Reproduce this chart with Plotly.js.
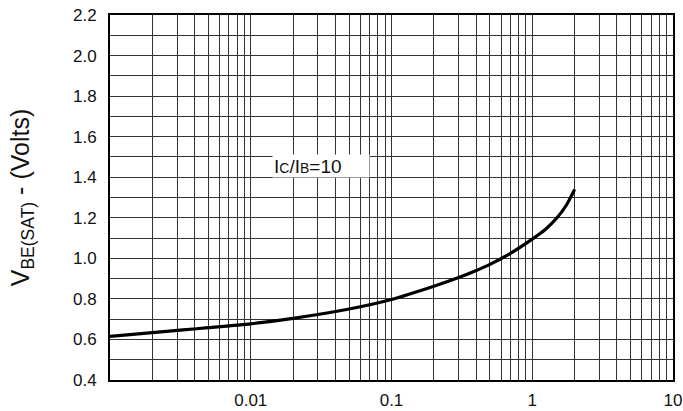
<!DOCTYPE html>
<html>
<head>
<meta charset="utf-8">
<script src="https://cdn.plot.ly/plotly-3.0.1.min.js"></script>
<style>html,body{margin:0;padding:0;background:#fff;}#chart{width:683px;height:411px;}</style>
</head>
<body>
<div id="chart"></div>
<script>
// Collector current IC (A)
const collectorCurrent = [0.001, 0.002, 0.0033, 0.005, 0.01, 0.02, 0.05, 0.1, 0.2, 0.3, 0.4, 0.5, 0.7, 1.0, 1.25, 1.5, 1.75, 2.0];
// VBE(SAT) (Volts)
const vbeSat = [0.615, 0.634, 0.647, 0.658, 0.677, 0.704, 0.750, 0.797, 0.862, 0.905, 0.940, 0.970, 1.025, 1.095, 1.145, 1.200, 1.263, 1.340];

const xTickLabels = ["0.01", "0.1", "1", "10"];
const xTickLabelValues = [0.01, 0.1, 1, 10];
const yTickLabels = ["0.4", "0.6", "0.8", "1.0", "1.2", "1.4", "1.6", "1.8", "2.0", "2.2"];
const yTickValues = [0.4, 0.6, 0.8, 1.0, 1.2, 1.4, 1.6, 1.8, 2.0, 2.2];
const annotationText = "I<span style='font-size:14px'>C</span>/I<span style='font-size:14px'>B</span>=10";

// grid positions for the log axis (1..9 in each decade)
const xGridVals = [];
const xGridText = [];
for (let d = -3; d <= 0; d++) {
  for (let m = 1; m <= 9; m++) {
    const v = m * Math.pow(10, d);
    xGridVals.push(v);
    const idx = xTickLabelValues.findIndex(t => Math.abs(t - v) < v * 1e-6);
    xGridText.push(idx >= 0 ? xTickLabels[idx] : "");
  }
}
xGridVals.push(10); xGridText.push("10");

const yGridVals = [];
const yGridText = [];
for (let k = 0; k <= 18; k++) {
  const v = +(0.4 + k * 0.1).toFixed(1);
  yGridVals.push(v);
  const idx = yTickValues.findIndex(t => Math.abs(t - v) < 1e-6);
  yGridText.push(idx >= 0 ? yTickLabels[idx] : "");
}

const font = {family: "Liberation Sans, Arial, sans-serif", color: "#111"};

const trace = {
  x: collectorCurrent,
  y: vbeSat,
  type: "scatter",
  mode: "lines",
  line: {color: "#000", width: 3.2, shape: "spline", smoothing: 0.8},
  hoverinfo: "skip"
};

const layout = {
  width: 683, height: 411,
  margin: {l: 110, r: 10, t: 15, b: 31},
  paper_bgcolor: "#fff", plot_bgcolor: "#fff",
  showlegend: false,
  font: font,
  xaxis: {
    type: "log",
    range: [-3, 1],
    tickmode: "array",
    tickvals: xGridVals,
    ticktext: xGridText,
    tickangle: 0,
    ticks: "",
    showgrid: true, gridcolor: "#333", gridwidth: 1,
    showline: true, linecolor: "#000", linewidth: 2, mirror: true,
    zeroline: false,
    tickfont: {family: font.family, size: 17, color: "#111"},
    ticklabelstandoff: 4
  },
  yaxis: {
    range: [0.4, 2.2],
    tickmode: "array",
    tickvals: yGridVals,
    ticktext: yGridText,
    tickangle: 0,
    ticks: "",
    showgrid: true, gridcolor: "#333", gridwidth: 1,
    showline: true, linecolor: "#000", linewidth: 2, mirror: true,
    zeroline: false,
    tickfont: {family: font.family, size: 17, color: "#111"},
    ticklabelstandoff: 8,
    title: {
      text: "V<sub>BE(SAT)</sub> - (Volts)",
      font: {family: font.family, size: 25, color: "#111"},
      standoff: 36
    }
  },
  annotations: [{
    xref: "x", yref: "y",
    x: -1.849, y: 1.455,
    xanchor: "left", yanchor: "middle",
    text: annotationText,
    showarrow: false,
    align: "left",
    width: 94, height: 20,
    bgcolor: "#fff",
    borderpad: 1,
    font: {family: font.family, size: 19, color: "#111"}
  }]
};

Plotly.newPlot("chart", [trace], layout, {staticPlot: true, displayModeBar: false});
</script>
</body>
</html>
